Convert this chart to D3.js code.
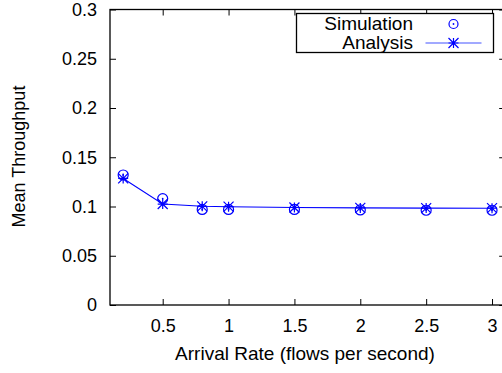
<!DOCTYPE html>
<html>
<head>
<meta charset="utf-8">
<script src="https://cdn.jsdelivr.net/npm/d3@7"></script>
<style>
  body { margin: 0; background: #fff; }
  svg { display: block; font-family: "Liberation Sans", Arial, sans-serif; }
</style>
</head>
<body>
<svg id="chart" width="502" height="373"></svg>
<script>
var rates = [0.2, 0.5, 0.8, 1, 1.5, 2, 2.5, 3];
var simulation = [0.132, 0.108, 0.097, 0.097, 0.097, 0.0965, 0.0962, 0.0962];
var analysis = [0.1285, 0.1025, 0.1002, 0.0998, 0.099, 0.0986, 0.0984, 0.0983];
var xTicks = [0.5, 1, 1.5, 2, 2.5, 3];
var yTicks = [0, 0.05, 0.1, 0.15, 0.2, 0.25, 0.3];

var svg = d3.select('#chart');
var padL = 110, padR = 505.2, padT = 9.5, padB = 305;
var blue = '#0000ff';

var x = d3.scaleLinear().domain([0.1, 3.1]).range([padL, padR]);
var y = d3.scaleLinear().domain([0, 0.3]).range([padB, padT]);

// frame
svg.append('rect')
  .attr('x', padL).attr('y', padT)
  .attr('width', padR - padL).attr('height', padB - padT)
  .attr('fill', 'none').attr('stroke', '#000').attr('stroke-width', 1.3);

// axes, ticks pointing inward like gnuplot
var fmt = d3.format('');
svg.append('g').attr('transform', 'translate(0,' + padB + ')')
  .call(d3.axisBottom(x).tickValues(xTicks).tickSizeInner(-6).tickSizeOuter(0).tickPadding(14).tickFormat(fmt));
svg.append('g').attr('transform', 'translate(0,' + padT + ')')
  .call(d3.axisTop(x).tickValues(xTicks).tickSizeInner(-6).tickSizeOuter(0).tickFormat(''));
svg.append('g').attr('transform', 'translate(' + padL + ',0)')
  .call(d3.axisLeft(y).tickValues(yTicks).tickSizeInner(-6).tickSizeOuter(0).tickPadding(13).tickFormat(fmt));
svg.append('g').attr('transform', 'translate(' + padR + ',0)')
  .call(d3.axisRight(y).tickValues(yTicks).tickSizeInner(-6).tickSizeOuter(0).tickFormat(''));

svg.selectAll('.domain').remove();
svg.selectAll('.tick line').attr('stroke', '#000');
svg.selectAll('.tick text').attr('font-size', 18).attr('fill', '#000')
  .attr('font-family', '"Liberation Sans", Arial, sans-serif');

// axis titles
svg.append('text')
  .attr('x', 305).attr('y', 360)
  .attr('text-anchor', 'middle').attr('font-size', 19)
  .text('Arrival Rate (flows per second)');
svg.append('text')
  .attr('transform', 'translate(25,156.5) rotate(-90)')
  .attr('text-anchor', 'middle').attr('font-size', 18)
  .text('Mean Throughput');

// markers
function star(g, cx, cy, s) {
  var p = 'M' + (cx - s) + ',' + cy + 'H' + (cx + s) +
          'M' + cx + ',' + (cy - s) + 'V' + (cy + s) +
          'M' + (cx - s) + ',' + (cy - s) + 'L' + (cx + s) + ',' + (cy + s) +
          'M' + (cx - s) + ',' + (cy + s) + 'L' + (cx + s) + ',' + (cy - s);
  g.append('path').attr('d', p).attr('stroke', blue).attr('stroke-width', 1.2).attr('fill', 'none');
}
function ring(g, cx, cy, r) {
  g.append('circle').attr('cx', cx).attr('cy', cy).attr('r', r)
    .attr('fill', 'none').attr('stroke', blue).attr('stroke-width', 1.2);
  g.append('circle').attr('cx', cx).attr('cy', cy).attr('r', 0.9).attr('fill', blue);
}

var analysisData = rates.map(function(r, i) { return {x: r, y: analysis[i]}; });
var simData = rates.map(function(r, i) { return {x: r, y: simulation[i]}; });

var line = d3.line().x(function(d) { return x(d.x); }).y(function(d) { return y(d.y); });
svg.append('path').datum(analysisData)
  .attr('d', line).attr('fill', 'none').attr('stroke', blue).attr('stroke-width', 1.1);

var marks = svg.append('g');
simData.forEach(function(d) { ring(marks, x(d.x), y(d.y), 5); });
analysisData.forEach(function(d) { star(marks, x(d.x), y(d.y), 5); });

// legend
var legend = svg.append('g');
legend.append('rect')
  .attr('x', 296.5).attr('y', 13.5).attr('width', 197).attr('height', 39)
  .attr('fill', '#fff').attr('stroke', '#000').attr('stroke-width', 1.3);
legend.append('text').attr('x', 413).attr('y', 30).attr('text-anchor', 'end')
  .attr('font-size', 19).text('Simulation');
legend.append('text').attr('x', 413).attr('y', 49).attr('text-anchor', 'end')
  .attr('font-size', 19).text('Analysis');
ring(legend, 453.5, 24, 4.5);
legend.append('line').attr('x1', 425.5).attr('x2', 481.5).attr('y1', 43).attr('y2', 43)
  .attr('stroke', '#4455ff').attr('stroke-width', 1.1);
star(legend, 453.5, 43, 5);
</script>
</body>
</html>
